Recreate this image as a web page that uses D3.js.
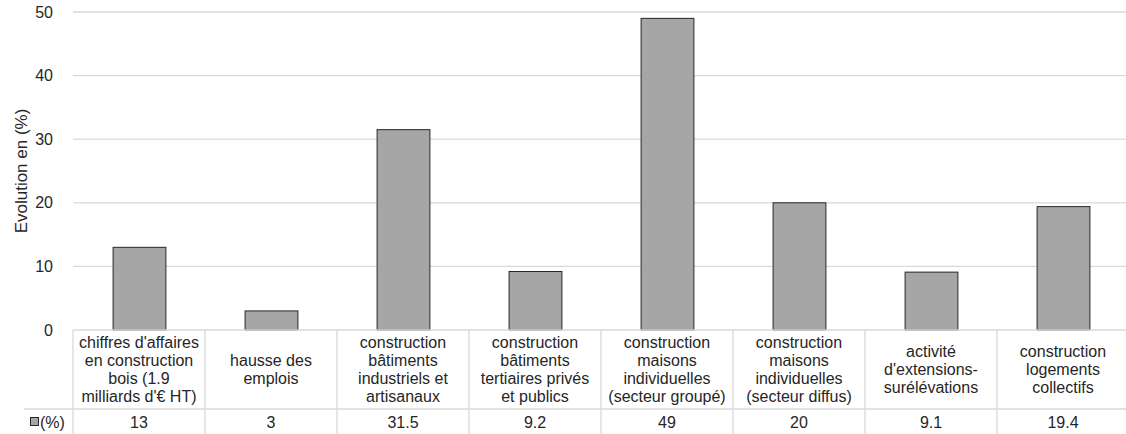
<!DOCTYPE html>
<html>
<head>
<meta charset="utf-8">
<script src="https://cdn.jsdelivr.net/npm/d3@7"></script>
<style>
  html, body { margin: 0; padding: 0; background: #fff; overflow: hidden; }
  svg { display: block; font-family: "Liberation Sans", Arial, sans-serif; }
</style>
</head>
<body>
<svg id="chart" width="1126" height="434"></svg>
<script>
// ---- data ----
const categories = [
  "chiffres d'affaires\nen construction\nbois (1.9\nmilliards d'€ HT)",
  "hausse des\nemplois",
  "construction\nbâtiments\nindustriels et\nartisanaux",
  "construction\nbâtiments\ntertiaires privés\net publics",
  "construction\nmaisons\nindividuelles\n(secteur groupé)",
  "construction\nmaisons\nindividuelles\n(secteur diffus)",
  "activité\nd'extensions-\nsurélévations",
  "construction\nlogements\ncollectifs"
];
const values = [13, 3, 31.5, 9.2, 49, 20, 9.1, 19.4];
const valueLabels = ["13", "3", "31.5", "9.2", "49", "20", "9.1", "19.4"];
const yTicks = [0, 10, 20, 30, 40, 50];
const seriesName = "(%)";
const yTitle = "Evolution en (%)";

(function () {
// ---- layout ----
const svg = d3.select("#chart");
const plotLeft = 73, plotRight = 1129, plotTop = 12, zeroY = 330;
const rowSplit = 409, tableBottom = 434;
const textColor = "#262626";
const gridColor = "#d9d9d9";

const x = d3.scaleBand().domain(d3.range(categories.length)).range([plotLeft, plotRight]).padding(0);
const y = d3.scaleLinear().domain([0, 50]).range([zeroY, plotTop]);

// gridlines
svg.append("g").selectAll("line").data(yTicks.filter(d => d > 0)).join("line")
  .attr("x1", plotLeft).attr("x2", plotRight)
  .attr("y1", d => y(d)).attr("y2", d => y(d))
  .attr("stroke", gridColor).attr("stroke-width", 1.3);

// y axis labels
const yAxis = d3.axisLeft(y).tickValues(yTicks).tickSize(0).tickPadding(0);
const ya = svg.append("g").attr("transform", `translate(${plotLeft - 20},0)`).call(yAxis);
ya.select(".domain").remove();
ya.selectAll("text").attr("font-size", 16).attr("fill", textColor)
  .attr("font-family", "Liberation Sans, Arial, sans-serif");

// y axis title
svg.append("text")
  .attr("transform", `translate(21,${(plotTop + zeroY) / 2}) rotate(-90)`)
  .attr("text-anchor", "middle").attr("dominant-baseline", "central")
  .attr("font-size", 17).attr("fill", textColor).text(yTitle);

// bars
const bw = x.bandwidth();
svg.append("g").selectAll("rect").data(values).join("rect")
  .attr("x", (d, i) => x(i) + bw * 0.3 + 0.5)
  .attr("width", bw * 0.4)
  .attr("y", d => y(d))
  .attr("height", d => zeroY - y(d))
  .attr("fill", "#a6a6a6").attr("stroke", "#262626").attr("stroke-width", 1);

// table lines
const tl = svg.append("g").attr("stroke", gridColor).attr("stroke-width", 1.3);
tl.append("line").attr("x1", plotLeft).attr("x2", plotRight).attr("y1", zeroY).attr("y2", zeroY);
tl.append("line").attr("x1", 24).attr("x2", plotRight).attr("y1", rowSplit).attr("y2", rowSplit);
tl.selectAll(".v").data(d3.range(categories.length + 1)).join("line")
  .attr("x1", i => i < categories.length ? x(i) : plotRight)
  .attr("x2", i => i < categories.length ? x(i) : plotRight)
  .attr("y1", zeroY).attr("y2", tableBottom);

// category labels
const lh = 18.3;
const cg = svg.append("g").attr("font-size", 16).attr("fill", textColor).attr("text-anchor", "middle");
categories.forEach((c, i) => {
  const lines = c.split("\n");
  const cy = (zeroY + rowSplit) / 2;
  const startY = cy - (lines.length - 1) * lh / 2;
  const t = cg.append("text").attr("x", x(i) + bw / 2);
  lines.forEach((ln, j) => {
    t.append("tspan").attr("x", x(i) + bw / 2).attr("y", startY + j * lh)
      .attr("dominant-baseline", "central").text(ln);
  });
});

// value row
svg.append("g").selectAll("text").data(valueLabels).join("text")
  .attr("x", (d, i) => x(i) + bw / 2).attr("y", 422)
  .attr("text-anchor", "middle").attr("dominant-baseline", "central")
  .attr("font-size", 16).attr("fill", textColor).text(d => d);

// legend key
svg.append("rect").attr("x", 30.5).attr("y", 417.5).attr("width", 8).attr("height", 8)
  .attr("fill", "#a6a6a6").attr("stroke", "#262626").attr("stroke-width", 1);
svg.append("text").attr("x", 40).attr("y", 422).attr("dominant-baseline", "central")
  .attr("font-size", 16).attr("fill", textColor).text(seriesName);
})();
</script>
</body>
</html>
